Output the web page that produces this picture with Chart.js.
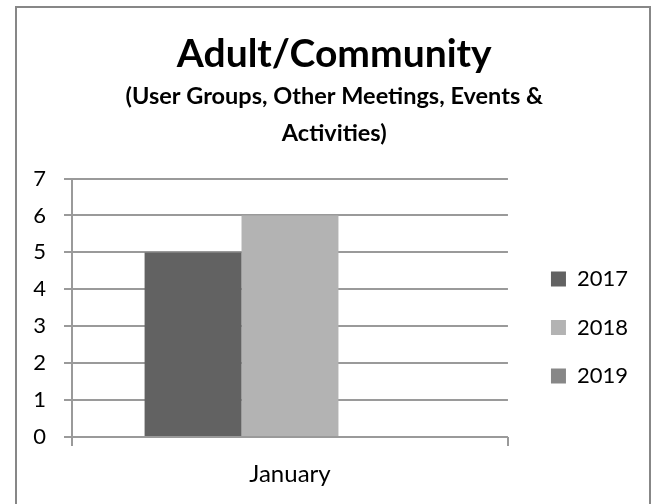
<!DOCTYPE html>
<html>
<head>
<meta charset="utf-8">
<script src="https://cdn.jsdelivr.net/npm/chart.js@4.4.1/dist/chart.umd.min.js"></script>
<style>
  html, body { margin: 0; padding: 0; background: #fff; }
  #wrap { width: 653px; height: 504px; }
</style>
</head>
<body>
<div id="wrap"><canvas id="chart" width="653" height="504"></canvas></div>
<script>
// data
const categories = ['January'];
const seriesNames = ['2017', '2018', '2019'];
const values2017 = [5];
const values2018 = [6];
const values2019 = [null]; // no bar shown for 2019
const yMin = 0;
const yMax = 7;
const yStep = 1;

const FONT = 'Lato, "Liberation Sans", sans-serif';
const GRID = '#9a9a9a';

// outer frame of the chart, like the office chart border
const frame = {
  id: 'frame',
  beforeDraw(chart) {
    const ctx = chart.ctx;
    ctx.save();
    ctx.strokeStyle = '#878787';
    ctx.lineWidth = 2;
    ctx.strokeRect(16, 7, 634, 520);
    ctx.restore();
  }
};

// titles are centred on the frame, legend sits apart from the plot
const boxNudge = {
  id: 'boxNudge',
  afterLayout(chart) {
    chart.boxes.forEach(b => {
      if (b !== chart.legend && b.position === 'top') {
        b.left += 23.5;
        b.right += 23.5;
      }
    });
    const lg = chart.legend;
    lg.left += 16.5;
    lg.right += 16.5;
    lg.top += 75.5;
    lg.bottom += 75.5;
  }
};

const ctx = document.getElementById('chart').getContext('2d');
new Chart(ctx, {
  type: 'bar',
  data: {
    labels: categories,
    datasets: [
      { label: seriesNames[0], data: values2017, backgroundColor: '#626262' },
      { label: seriesNames[1], data: values2018, backgroundColor: '#b3b3b3' },
      { label: seriesNames[2], data: values2019, backgroundColor: '#878787' }
    ]
  },
  options: {
    responsive: false,
    animation: false,
    devicePixelRatio: 1,
    datasets: {
      bar: { barPercentage: 1, categoryPercentage: 0.667, borderWidth: 0 }
    },
    layout: { padding: { top: 0, left: 0, right: 31.5, bottom: 0 } },
    plugins: {
      title: {
        display: true,
        text: 'Adult/Community',
        color: '#000',
        font: { family: FONT, size: 39, weight: 'bold', lineHeight: 1.2 },
        padding: { top: 31, bottom: 0 }
      },
      subtitle: {
        display: true,
        text: ['(User Groups, Other Meetings, Events &', 'Activities)'],
        color: '#000',
        font: { family: FONT, size: 23.5, weight: 'bold', lineHeight: 1.58 },
        padding: { top: 0, bottom: 26.5 }
      },
      legend: {
        position: 'right',
        align: 'center',
        labels: {
          boxWidth: 15,
          boxHeight: 15,
          padding: 26.5,
          color: '#000',
          font: { family: FONT, size: 22 }
        }
      },
      tooltip: { enabled: false }
    },
    scales: {
      x: {
        offset: true,
        grid: { display: true, offset: true, drawOnChartArea: false, drawTicks: true, tickLength: 9, color: GRID, lineWidth: 2 },
        border: { display: false },
        ticks: { color: '#000', font: { family: FONT, size: 24 }, padding: 14 },
        afterFit(s) { s.height = 67; }
      },
      y: {
        min: yMin,
        max: yMax,
        ticks: { stepSize: yStep, color: '#000', font: { family: FONT, size: 22 }, padding: 18 },
        grid: { color: GRID, lineWidth: 2, tickLength: 8, drawTicks: true },
        border: { display: true, color: GRID, width: 2 },
        afterFit(s) { s.width = 72; }
      }
    }
  },
  plugins: [frame, boxNudge]
});
</script>
</body>
</html>
